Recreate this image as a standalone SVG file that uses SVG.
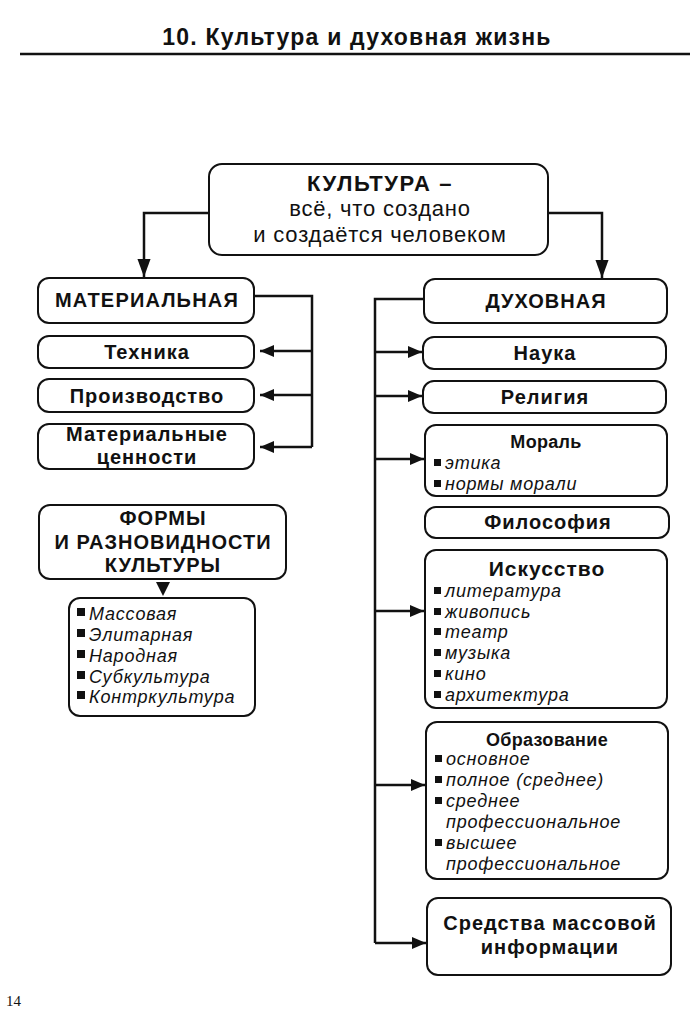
<svg xmlns="http://www.w3.org/2000/svg" width="700" height="1027" viewBox="0 0 700 1027">
<style>
.box{fill:#fff;stroke:#111;stroke-width:2}
.ln{fill:none;stroke:#111;stroke-width:2.5}
.t{font-family:"Liberation Sans",Arial,sans-serif;fill:#111}
.b{font-weight:bold;font-size:20px;text-anchor:middle;letter-spacing:1px}
.h{font-weight:bold;font-size:20px;text-anchor:middle;letter-spacing:1px}
.s{font-weight:bold;font-size:18px;text-anchor:middle;letter-spacing:0.3px}
.r{font-size:22px;text-anchor:middle;letter-spacing:0.8px}
.i{font-style:italic;font-size:18px;letter-spacing:0.8px}
.sq{fill:#111}
</style>
<defs>
<marker id="big" markerUnits="userSpaceOnUse" markerWidth="18" markerHeight="24" refX="22" refY="8" viewBox="0 0 22 16" orient="auto"><path d="M0,0 L22,8 L0,16 Z" fill="#111"/></marker>
<marker id="sm" markerUnits="userSpaceOnUse" markerWidth="14" markerHeight="12" refX="14" refY="6" viewBox="0 0 14 12" orient="auto"><path d="M0,0 L14,6 L0,12 Z" fill="#111"/></marker>
</defs>
<rect width="700" height="1027" fill="#fff"/>
<g id="title">
<text class="t" x="357" y="45" font-size="23" font-weight="bold" text-anchor="middle" letter-spacing="1.2">10. Культура и духовная жизнь</text>
<line x1="20" y1="54" x2="690" y2="54" stroke="#111" stroke-width="2.5"/>
</g>
<g id="connectors">
<path class="ln" d="M209,213 H144 V277" marker-end="url(#big)"/>
<path class="ln" d="M548,213 H602 V278" marker-end="url(#big)"/>
<path class="ln" d="M254,296 H312 V447"/>
<path class="ln" d="M312,351 H260" marker-end="url(#sm)"/>
<path class="ln" d="M312,395 H260" marker-end="url(#sm)"/>
<path class="ln" d="M312,447 H260" marker-end="url(#sm)"/>
<path d="M156,582 L170,582 L163,596 Z" fill="#111"/>
<path class="ln" d="M424,299 H375 V943"/>
<path class="ln" d="M375,352 H422" marker-end="url(#sm)"/>
<path class="ln" d="M375,396 H422" marker-end="url(#sm)"/>
<path class="ln" d="M375,459 H424" marker-end="url(#sm)"/>
<path class="ln" d="M375,611 H424" marker-end="url(#sm)"/>
<path class="ln" d="M375,785 H425" marker-end="url(#sm)"/>
<path class="ln" d="M375,943 H426" marker-end="url(#sm)"/>
</g>
<g id="kultura">
<rect class="box" x="209" y="164" width="339" height="91" rx="13"/>
<text class="t h" x="380" y="191" style="font-size:22px;letter-spacing:1.6px">КУЛЬТУРА –</text>
<text class="t r" x="380" y="216">всё, что создано</text>
<text class="t r" x="380" y="242">и создаётся человеком</text>
</g>
<g id="materialnaya">
<rect class="box" x="38" y="278" width="216" height="45" rx="11"/>
<text class="t h" x="147" y="307" style="letter-spacing:1.2px">МАТЕРИАЛЬНАЯ</text>
</g>
<g id="tehnika">
<rect class="box" x="38" y="336" width="216" height="32" rx="11"/>
<text class="t b" x="147" y="359">Техника</text>
</g>
<g id="proizvodstvo">
<rect class="box" x="38" y="379" width="216" height="33" rx="11"/>
<text class="t b" x="147" y="403">Производство</text>
</g>
<g id="mat-tsennosti">
<rect class="box" x="38" y="424" width="216" height="45" rx="11"/>
<text class="t b" x="147" y="441">Материальные</text>
<text class="t b" x="147" y="464">ценности</text>
</g>
<g id="formy">
<rect class="box" x="39" y="505" width="247" height="74" rx="11"/>
<text class="t h" x="163" y="525">ФОРМЫ</text>
<text class="t h" x="163" y="549">И РАЗНОВИДНОСТИ</text>
<text class="t h" x="163" y="572">КУЛЬТУРЫ</text>
</g>
<g id="formy-list">
<rect class="box" x="69" y="598" width="186" height="118" rx="11"/>
<rect class="sq" x="77" y="608" width="8" height="8"/><text class="t i" x="89" y="620">Массовая</text>
<rect class="sq" x="77" y="629" width="8" height="8"/><text class="t i" x="89" y="641">Элитарная</text>
<rect class="sq" x="77" y="650" width="8" height="8"/><text class="t i" x="89" y="662">Народная</text>
<rect class="sq" x="77" y="671" width="8" height="8"/><text class="t i" x="89" y="683">Субкультура</text>
<rect class="sq" x="77" y="691" width="8" height="8"/><text class="t i" x="89" y="703">Контркультура</text>
</g>
<g id="duhovnaya">
<rect class="box" x="424" y="279" width="243" height="44" rx="11"/>
<text class="t h" x="546" y="308">ДУХОВНАЯ</text>
</g>
<g id="nauka">
<rect class="box" x="423" y="337" width="243" height="32" rx="11"/>
<text class="t b" x="545" y="360">Наука</text>
</g>
<g id="religiya">
<rect class="box" x="423" y="381" width="243" height="32" rx="11"/>
<text class="t b" x="545" y="404">Религия</text>
</g>
<g id="moral">
<rect class="box" x="425" y="425" width="242" height="71" rx="11"/>
<text class="t s" x="546" y="448">Мораль</text>
<rect class="sq" x="434" y="459" width="7" height="7"/><text class="t i" x="445" y="469">этика</text>
<rect class="sq" x="434" y="480" width="7" height="7"/><text class="t i" x="445" y="490">нормы морали</text>
</g>
<g id="filosofiya">
<rect class="box" x="425" y="507" width="244" height="31" rx="11"/>
<text class="t b" x="548" y="529">Философия</text>
</g>
<g id="iskusstvo">
<rect class="box" x="425" y="550" width="242" height="158" rx="11"/>
<text class="t h" x="547" y="576" style="font-size:21px">Искусство</text>
<rect class="sq" x="434" y="587" width="7" height="7"/><text class="t i" x="445" y="597">литература</text>
<rect class="sq" x="434" y="608" width="7" height="7"/><text class="t i" x="445" y="618">живопись</text>
<rect class="sq" x="434" y="628" width="7" height="7"/><text class="t i" x="445" y="638">театр</text>
<rect class="sq" x="434" y="649" width="7" height="7"/><text class="t i" x="445" y="659">музыка</text>
<rect class="sq" x="434" y="670" width="7" height="7"/><text class="t i" x="445" y="680">кино</text>
<rect class="sq" x="434" y="691" width="7" height="7"/><text class="t i" x="445" y="701">архитектура</text>
</g>
<g id="obrazovanie">
<rect class="box" x="426" y="722" width="242" height="157" rx="11"/>
<text class="t s" x="547" y="746">Образование</text>
<rect class="sq" x="435" y="755" width="7" height="7"/><text class="t i" x="446" y="765">основное</text>
<rect class="sq" x="435" y="776" width="7" height="7"/><text class="t i" x="446" y="786">полное (среднее)</text>
<rect class="sq" x="435" y="797" width="7" height="7"/><text class="t i" x="446" y="807">среднее</text>
<text class="t i" x="446" y="828">профессиональное</text>
<rect class="sq" x="435" y="839" width="7" height="7"/><text class="t i" x="446" y="849">высшее</text>
<text class="t i" x="446" y="870">профессиональное</text>
</g>
<g id="smi">
<rect class="box" x="427" y="898" width="244" height="77" rx="11"/>
<text class="t h" x="550" y="930">Средства массовой</text>
<text class="t h" x="550" y="954">информации</text>
</g>
<text x="6" y="1006" font-family="Liberation Serif,serif" font-size="15" fill="#111">14</text>
</svg>
